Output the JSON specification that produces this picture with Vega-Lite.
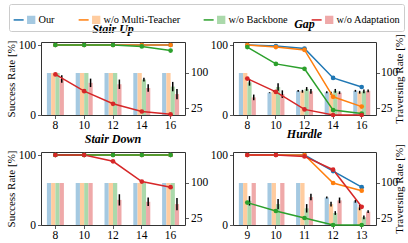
{
"$schema": "https://vega.github.io/schema/vega-lite/v6.json",
"background": "white",
"padding": {"left": 4, "top": 3, "right": 2, "bottom": 2},
"datasets": {"d": [
{"panel":"Stair Up","x":8,"method":"Our","success":100,"traversing":100,"lo":100,"hi":100},
{"panel":"Stair Up","x":10,"method":"Our","success":100,"traversing":100,"lo":100,"hi":100},
{"panel":"Stair Up","x":12,"method":"Our","success":100,"traversing":100,"lo":100,"hi":100},
{"panel":"Stair Up","x":14,"method":"Our","success":100,"traversing":100,"lo":100,"hi":100},
{"panel":"Stair Up","x":16,"method":"Our","success":100,"traversing":100,"lo":100,"hi":100},
{"panel":"Stair Up","x":8,"method":"w/o Multi-Teacher","success":100,"traversing":100,"lo":100,"hi":100},
{"panel":"Stair Up","x":10,"method":"w/o Multi-Teacher","success":100,"traversing":100,"lo":100,"hi":100},
{"panel":"Stair Up","x":12,"method":"w/o Multi-Teacher","success":100,"traversing":100,"lo":100,"hi":100},
{"panel":"Stair Up","x":14,"method":"w/o Multi-Teacher","success":100,"traversing":100,"lo":100,"hi":100},
{"panel":"Stair Up","x":16,"method":"w/o Multi-Teacher","success":100,"traversing":100,"lo":100,"hi":100},
{"panel":"Stair Up","x":8,"method":"w/o Backbone","success":100,"traversing":100,"lo":100,"hi":100},
{"panel":"Stair Up","x":10,"method":"w/o Backbone","success":100,"traversing":100,"lo":100,"hi":100},
{"panel":"Stair Up","x":12,"method":"w/o Backbone","success":100,"traversing":100,"lo":100,"hi":100},
{"panel":"Stair Up","x":14,"method":"w/o Backbone","success":98,"traversing":86,"lo":82,"hi":90},
{"panel":"Stair Up","x":16,"method":"w/o Backbone","success":92,"traversing":71,"lo":61,"hi":81},
{"panel":"Stair Up","x":8,"method":"w/o Adaptation","success":58,"traversing":87,"lo":79,"hi":95},
{"panel":"Stair Up","x":10,"method":"w/o Adaptation","success":34,"traversing":79,"lo":70,"hi":88},
{"panel":"Stair Up","x":12,"method":"w/o Adaptation","success":16,"traversing":76,"lo":66,"hi":86},
{"panel":"Stair Up","x":14,"method":"w/o Adaptation","success":5,"traversing":68,"lo":60,"hi":76},
{"panel":"Stair Up","x":16,"method":"w/o Adaptation","success":1,"traversing":55,"lo":44,"hi":66},
{"panel":"Gap","x":8,"method":"Our","success":100,"traversing":100,"lo":100,"hi":100},
{"panel":"Gap","x":10,"method":"Our","success":98.6,"traversing":58,"lo":57,"hi":59},
{"panel":"Gap","x":12,"method":"Our","success":95,"traversing":62,"lo":60,"hi":64},
{"panel":"Gap","x":14,"method":"Our","success":53,"traversing":59,"lo":57,"hi":61},
{"panel":"Gap","x":16,"method":"Our","success":40,"traversing":62,"lo":60,"hi":64},
{"panel":"Gap","x":8,"method":"w/o Multi-Teacher","success":100,"traversing":100,"lo":100,"hi":100},
{"panel":"Gap","x":10,"method":"w/o Multi-Teacher","success":97,"traversing":62,"lo":60,"hi":64},
{"panel":"Gap","x":12,"method":"w/o Multi-Teacher","success":93,"traversing":61,"lo":58,"hi":64},
{"panel":"Gap","x":14,"method":"w/o Multi-Teacher","success":26,"traversing":57,"lo":54,"hi":60},
{"panel":"Gap","x":16,"method":"w/o Multi-Teacher","success":12,"traversing":59,"lo":56,"hi":62},
{"panel":"Gap","x":8,"method":"w/o Backbone","success":97,"traversing":80,"lo":73,"hi":87},
{"panel":"Gap","x":10,"method":"w/o Backbone","success":73,"traversing":70,"lo":62,"hi":78},
{"panel":"Gap","x":12,"method":"w/o Backbone","success":66,"traversing":66,"lo":62,"hi":70},
{"panel":"Gap","x":14,"method":"w/o Backbone","success":7,"traversing":62,"lo":58,"hi":66},
{"panel":"Gap","x":16,"method":"w/o Backbone","success":2,"traversing":61,"lo":57,"hi":65},
{"panel":"Gap","x":8,"method":"w/o Adaptation","success":52,"traversing":48,"lo":42,"hi":54},
{"panel":"Gap","x":10,"method":"w/o Adaptation","success":33,"traversing":55,"lo":47,"hi":63},
{"panel":"Gap","x":12,"method":"w/o Adaptation","success":8,"traversing":61,"lo":56,"hi":66},
{"panel":"Gap","x":14,"method":"w/o Adaptation","success":0,"traversing":58,"lo":55,"hi":61},
{"panel":"Gap","x":16,"method":"w/o Adaptation","success":0,"traversing":62,"lo":59,"hi":65},
{"panel":"Stair Down","x":8,"method":"Our","success":100,"traversing":100,"lo":100,"hi":100},
{"panel":"Stair Down","x":10,"method":"Our","success":100,"traversing":100,"lo":100,"hi":100},
{"panel":"Stair Down","x":12,"method":"Our","success":100,"traversing":100,"lo":100,"hi":100},
{"panel":"Stair Down","x":14,"method":"Our","success":100,"traversing":100,"lo":100,"hi":100},
{"panel":"Stair Down","x":16,"method":"Our","success":100,"traversing":100,"lo":100,"hi":100},
{"panel":"Stair Down","x":8,"method":"w/o Multi-Teacher","success":100,"traversing":100,"lo":100,"hi":100},
{"panel":"Stair Down","x":10,"method":"w/o Multi-Teacher","success":100,"traversing":100,"lo":100,"hi":100},
{"panel":"Stair Down","x":12,"method":"w/o Multi-Teacher","success":100,"traversing":100,"lo":100,"hi":100},
{"panel":"Stair Down","x":14,"method":"w/o Multi-Teacher","success":100,"traversing":100,"lo":100,"hi":100},
{"panel":"Stair Down","x":16,"method":"w/o Multi-Teacher","success":100,"traversing":100,"lo":100,"hi":100},
{"panel":"Stair Down","x":8,"method":"w/o Backbone","success":100,"traversing":100,"lo":100,"hi":100},
{"panel":"Stair Down","x":10,"method":"w/o Backbone","success":100,"traversing":100,"lo":100,"hi":100},
{"panel":"Stair Down","x":12,"method":"w/o Backbone","success":100,"traversing":100,"lo":100,"hi":100},
{"panel":"Stair Down","x":14,"method":"w/o Backbone","success":100,"traversing":100,"lo":100,"hi":100},
{"panel":"Stair Down","x":16,"method":"w/o Backbone","success":100,"traversing":100,"lo":100,"hi":100},
{"panel":"Stair Down","x":8,"method":"w/o Adaptation","success":100,"traversing":100,"lo":100,"hi":100},
{"panel":"Stair Down","x":10,"method":"w/o Adaptation","success":100,"traversing":100,"lo":100,"hi":100},
{"panel":"Stair Down","x":12,"method":"w/o Adaptation","success":91,"traversing":64,"lo":52,"hi":76},
{"panel":"Stair Down","x":14,"method":"w/o Adaptation","success":62,"traversing":60,"lo":51,"hi":69},
{"panel":"Stair Down","x":16,"method":"w/o Adaptation","success":54,"traversing":55,"lo":42,"hi":68},
{"panel":"Hurdle","x":9,"method":"Our","success":100,"traversing":100,"lo":100,"hi":100},
{"panel":"Hurdle","x":10,"method":"Our","success":100,"traversing":100,"lo":100,"hi":100},
{"panel":"Hurdle","x":11,"method":"Our","success":100,"traversing":100,"lo":100,"hi":100},
{"panel":"Hurdle","x":12,"method":"Our","success":77,"traversing":69,"lo":67,"hi":71},
{"panel":"Hurdle","x":13,"method":"Our","success":54,"traversing":61,"lo":58,"hi":64},
{"panel":"Hurdle","x":9,"method":"w/o Multi-Teacher","success":100,"traversing":100,"lo":100,"hi":100},
{"panel":"Hurdle","x":10,"method":"w/o Multi-Teacher","success":100,"traversing":100,"lo":100,"hi":100},
{"panel":"Hurdle","x":11,"method":"w/o Multi-Teacher","success":100,"traversing":100,"lo":100,"hi":100},
{"panel":"Hurdle","x":12,"method":"w/o Multi-Teacher","success":60,"traversing":55,"lo":50,"hi":60},
{"panel":"Hurdle","x":13,"method":"w/o Multi-Teacher","success":49,"traversing":48,"lo":42,"hi":54},
{"panel":"Hurdle","x":9,"method":"w/o Backbone","success":32,"traversing":62,"lo":52,"hi":72},
{"panel":"Hurdle","x":10,"method":"w/o Backbone","success":20,"traversing":55,"lo":44,"hi":66},
{"panel":"Hurdle","x":11,"method":"w/o Backbone","success":10,"traversing":46,"lo":37,"hi":55},
{"panel":"Hurdle","x":12,"method":"w/o Backbone","success":0,"traversing":36,"lo":32,"hi":40},
{"panel":"Hurdle","x":13,"method":"w/o Backbone","success":0,"traversing":27,"lo":23,"hi":31},
{"panel":"Hurdle","x":9,"method":"w/o Adaptation","success":100,"traversing":100,"lo":100,"hi":100},
{"panel":"Hurdle","x":10,"method":"w/o Adaptation","success":100,"traversing":100,"lo":100,"hi":100},
{"panel":"Hurdle","x":11,"method":"w/o Adaptation","success":98,"traversing":70,"lo":63,"hi":77},
{"panel":"Hurdle","x":12,"method":"w/o Adaptation","success":79,"traversing":63,"lo":57,"hi":69},
{"panel":"Hurdle","x":13,"method":"w/o Adaptation","success":26,"traversing":39,"lo":36,"hi":42}
]},
"data": {"name": "d"},
"columns": 2,
"bounds": "flush",
"spacing": {"row": 37, "column": 48},
"concat": [
{
 "title": {"text": "Stair Up", "frame": "group"},
 "width": 144, "height": 73,
 "transform": [{"filter": "datum.panel === 'Stair Up'"}],
 "encoding": {"x": {"field": "x", "type": "ordinal", "scale": {"paddingInner": 0.41, "paddingOuter": 0.205}, "axis": {"title": null, "labelAngle": 0, "bandPosition": 0.5, "labelPadding": 1}}},
 "layer": [
  {"layer": [
   {"mark": {"type": "bar", "clip": true}, "encoding": {
     "xOffset": {"field": "method", "scale": {"domain": ["Our","w/o Multi-Teacher","w/o Backbone","w/o Adaptation"]}},
     "y": {"field": "traversing", "type": "quantitative", "scale": {"domain": [10.5, 166], "zero": false, "nice": false}, "axis": {"orient": "right", "values": [25, 100], "title": null}},
     "fill": {"field": "method", "type": "nominal", "scale": {"domain": ["Our","w/o Multi-Teacher","w/o Backbone","w/o Adaptation"], "range": ["#a5c9e1","#ffcc9f","#abd9ab","#efa9a9"]},
       "legend": {"title": null, "orient": "none", "legendX": -32, "legendY": -38, "direction": "horizontal",
         "symbolType": "M-1,0H-0.0783H0.235V-0.3825H1V0.3825H0.235V0H-1Z",
         "symbolSize": 471, "symbolStrokeWidth": 1.5, "symbolDash": [10, 1000], "symbolDashOffset": 0, "symbolOpacity": 1,
         "labelFont": "Liberation Serif", "labelFontSize": 10.3, "labelColor": "black", "labelOffset": 2, "columnPadding": 20, "padding": 3.5, "strokeColor": "#cccccc", "cornerRadius": 2}}
   }},
   {"mark": {"type": "rule", "color": "black", "strokeWidth": 1.5}, "transform": [{"filter": "datum.hi > datum.lo"}], "encoding": {
     "xOffset": {"field": "method"},
     "y": {"field": "lo", "type": "quantitative"},
     "y2": {"field": "hi"}
   }}
  ]},
  {"layer": [
   {"mark": {"type": "line", "strokeWidth": 1.5}, "encoding": {
     "y": {"field": "success", "type": "quantitative", "scale": {"domain": [0, 104.3], "nice": false}, "axis": {"orient": "left", "values": [0, 50, 100], "title": "Success Rate [%]"}},
     "color": {"field": "method", "type": "nominal", "scale": {"domain": ["Our","w/o Multi-Teacher","w/o Backbone","w/o Adaptation"], "range": ["#1f77b4","#ff7f0e","#2ca02c","#d62728"]},
       "legend": {"title": null, "orient": "none", "legendX": -32, "legendY": -38, "direction": "horizontal",
         "symbolType": "M-1,0H-0.0783H0.235V-0.3825H1V0.3825H0.235V0H-1Z",
         "symbolSize": 471, "symbolStrokeWidth": 1.5, "symbolDash": [10, 1000], "symbolDashOffset": 0, "symbolOpacity": 1,
         "labelFont": "Liberation Serif", "labelFontSize": 10.3, "labelColor": "black", "labelOffset": 2, "columnPadding": 20, "padding": 3.5, "strokeColor": "#cccccc", "cornerRadius": 2}}
   }},
   {"mark": {"type": "point", "filled": true, "size": 22, "opacity": 1}, "encoding": {
     "y": {"field": "success", "type": "quantitative"},
     "color": {"field": "method", "type": "nominal", "legend": null}
   }}
  ]}
 ],
 "resolve": {"scale": {"y": "independent"}}
},
{
 "title": {"text": "Gap", "frame": "group"},
 "width": 143, "height": 73,
 "transform": [{"filter": "datum.panel === 'Gap'"}],
 "encoding": {"x": {"field": "x", "type": "ordinal", "scale": {"paddingInner": 0.41, "paddingOuter": 0.205}, "axis": {"title": null, "labelAngle": 0, "bandPosition": 0.5, "labelPadding": 1}}},
 "layer": [
  {"layer": [
   {"mark": {"type": "bar", "clip": true}, "encoding": {
     "xOffset": {"field": "method", "scale": {"domain": ["Our","w/o Multi-Teacher","w/o Backbone","w/o Adaptation"]}},
     "y": {"field": "traversing", "type": "quantitative", "scale": {"domain": [10.5, 166], "zero": false, "nice": false}, "axis": {"orient": "right", "values": [25, 100], "title": "Traversing Rate [%]", "titleAngle": 270, "titleBaseline": "top", "titlePadding": -4, "labelPadding": 1}},
     "fill": {"field": "method", "type": "nominal"}
   }},
   {"mark": {"type": "rule", "color": "black", "strokeWidth": 1.5}, "transform": [{"filter": "datum.hi > datum.lo"}], "encoding": {
     "xOffset": {"field": "method"},
     "y": {"field": "lo", "type": "quantitative"},
     "y2": {"field": "hi"}
   }}
  ]},
  {"layer": [
   {"mark": {"type": "line", "strokeWidth": 1.5}, "encoding": {
     "y": {"field": "success", "type": "quantitative", "scale": {"domain": [0, 104.3], "nice": false}, "axis": {"orient": "left", "values": [0, 50, 100], "title": null}},
     "color": {"field": "method", "type": "nominal"}
   }},
   {"mark": {"type": "point", "filled": true, "size": 22, "opacity": 1}, "encoding": {
     "y": {"field": "success", "type": "quantitative"},
     "color": {"field": "method", "type": "nominal", "legend": null}
   }}
  ]}
 ],
 "resolve": {"scale": {"y": "independent"}}
},
{
 "title": {"text": "Stair Down", "frame": "group"},
 "width": 144, "height": 73,
 "transform": [{"filter": "datum.panel === 'Stair Down'"}],
 "encoding": {"x": {"field": "x", "type": "ordinal", "scale": {"paddingInner": 0.41, "paddingOuter": 0.205}, "axis": {"title": null, "labelAngle": 0, "bandPosition": 0.5, "labelPadding": 1}}},
 "layer": [
  {"layer": [
   {"mark": {"type": "bar", "clip": true}, "encoding": {
     "xOffset": {"field": "method", "scale": {"domain": ["Our","w/o Multi-Teacher","w/o Backbone","w/o Adaptation"]}},
     "y": {"field": "traversing", "type": "quantitative", "scale": {"domain": [10.5, 166], "zero": false, "nice": false}, "axis": {"orient": "right", "values": [25, 100], "title": null}},
     "fill": {"field": "method", "type": "nominal"}
   }},
   {"mark": {"type": "rule", "color": "black", "strokeWidth": 1.5}, "transform": [{"filter": "datum.hi > datum.lo"}], "encoding": {
     "xOffset": {"field": "method"},
     "y": {"field": "lo", "type": "quantitative"},
     "y2": {"field": "hi"}
   }}
  ]},
  {"layer": [
   {"mark": {"type": "line", "strokeWidth": 1.5}, "encoding": {
     "y": {"field": "success", "type": "quantitative", "scale": {"domain": [0, 104.3], "nice": false}, "axis": {"orient": "left", "values": [0, 50, 100], "title": "Success Rate [%]"}},
     "color": {"field": "method", "type": "nominal"}
   }},
   {"mark": {"type": "point", "filled": true, "size": 22, "opacity": 1}, "encoding": {
     "y": {"field": "success", "type": "quantitative"},
     "color": {"field": "method", "type": "nominal", "legend": null}
   }}
  ]}
 ],
 "resolve": {"scale": {"y": "independent"}}
},
{
 "title": {"text": "Hurdle", "frame": "group"},
 "width": 143, "height": 73,
 "transform": [{"filter": "datum.panel === 'Hurdle'"}],
 "encoding": {"x": {"field": "x", "type": "ordinal", "scale": {"paddingInner": 0.41, "paddingOuter": 0.205}, "axis": {"title": null, "labelAngle": 0, "bandPosition": 0.5, "labelPadding": 1}}},
 "layer": [
  {"layer": [
   {"mark": {"type": "bar", "clip": true}, "encoding": {
     "xOffset": {"field": "method", "scale": {"domain": ["Our","w/o Multi-Teacher","w/o Backbone","w/o Adaptation"]}},
     "y": {"field": "traversing", "type": "quantitative", "scale": {"domain": [10.5, 166], "zero": false, "nice": false}, "axis": {"orient": "right", "values": [25, 100], "title": "Traversing Rate [%]", "titleAngle": 270, "titleBaseline": "top", "titlePadding": -4, "labelPadding": 1}},
     "fill": {"field": "method", "type": "nominal"}
   }},
   {"mark": {"type": "rule", "color": "black", "strokeWidth": 1.5}, "transform": [{"filter": "datum.hi > datum.lo"}], "encoding": {
     "xOffset": {"field": "method"},
     "y": {"field": "lo", "type": "quantitative"},
     "y2": {"field": "hi"}
   }}
  ]},
  {"layer": [
   {"mark": {"type": "line", "strokeWidth": 1.5}, "encoding": {
     "y": {"field": "success", "type": "quantitative", "scale": {"domain": [0, 104.3], "nice": false}, "axis": {"orient": "left", "values": [0, 50, 100], "title": null}},
     "color": {"field": "method", "type": "nominal"}
   }},
   {"mark": {"type": "point", "filled": true, "size": 22, "opacity": 1}, "encoding": {
     "y": {"field": "success", "type": "quantitative"},
     "color": {"field": "method", "type": "nominal", "legend": null}
   }}
  ]}
 ],
 "resolve": {"scale": {"y": "independent"}}
}
],
"config": {
 "font": "Liberation Serif",
 "view": {"stroke": "#333333", "strokeWidth": 1},
 "axis": {"labelFont": "Liberation Serif", "labelFontSize": 11.5, "labelColor": "black", "titleFont": "Liberation Serif", "titleFontSize": 11, "titleFontWeight": "normal", "titleColor": "black", "domain": false, "grid": false, "tickColor": "#333333", "tickSize": 3.5, "tickWidth": 0.8, "labelPadding": 2, "titlePadding": 2},
 "title": {"font": "Liberation Serif", "fontSize": 12, "fontStyle": "italic", "fontWeight": "bold", "offset": 3, "color": "black"}
}
}
